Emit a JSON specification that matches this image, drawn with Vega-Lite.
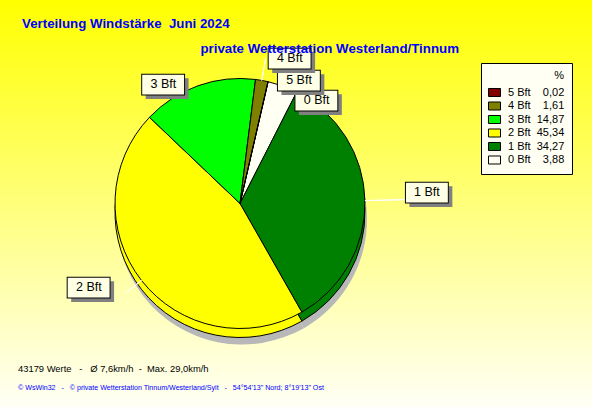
{
  "$schema": "https://vega.github.io/schema/vega-lite/v6.json",
  "background": "#FFFFF4",
  "padding": 0,
  "spacing": 0,
  "bounds": "flush",
  "config": {
    "view": {"stroke": null},
    "legend": {
      "orient": "none",
      "titleAnchor": "end", "titleFont": "Liberation Sans", "titleFontSize": 11, "titleFontWeight": "normal", "titleColor": "black", "titlePadding": 5,
      "labelFont": "Liberation Sans", "labelFontSize": 11, "labelColor": "black", "labelOffset": 7, "labelLimit": 200,
      "symbolType": "M-1,-0.667H1V0.667H-1Z", "symbolSize": 144, "symbolStrokeColor": "black", "symbolStrokeWidth": 1,
      "padding": 7, "rowPadding": 0.5
    }
  },
  "title": {
    "text": "43179 Werte\u00a0\u00a0\u00a0-\u00a0\u00a0\u00a0Ø 7,6km/h\u00a0\u00a0-\u00a0\u00a0Max. 29,0km/h",
    "subtitle": "© WsWin32\u00a0\u00a0\u00a0-\u00a0\u00a0\u00a0© private Wetterstation Tinnum/Westerland/Sylt\u00a0\u00a0\u00a0-\u00a0\u00a0\u00a054°54'13\" Nord; 8°19'13\" Ost",
    "orient": "bottom", "anchor": "start", "dx": 18, "offset": -42,
    "font": "Liberation Sans", "fontSize": 9.4, "fontWeight": "normal", "color": "black",
    "subtitleFont": "Liberation Sans", "subtitleFontSize": 7.1, "subtitleColor": "#0000FF", "subtitlePadding": 10
  },
  "hconcat": [
    {
      "width": 480,
      "height": 407,
      "title": {
        "text": "Verteilung Windstärke\u00a0\u00a0Juni 2024",
        "anchor": "start", "dx": 22, "offset": -30.5,
        "font": "Liberation Sans", "fontSize": 13.3, "fontWeight": "bold", "color": "#0000FF"
      },
      "layer": [
        {
          "data": {"values": [{}]},
          "mark": {"type": "rect", "fill": {"gradient": "linear", "x1": 0, "y1": 0, "x2": 0, "y2": 1,
            "stops": [{"offset": 0, "color": "#FFFF00"}, {"offset": 1, "color": "#FFFFF6"}]}}
        },
        {
          "data": {
            "values": [
              {"name": "0 Bft", "bft": 0, "pct": 3.88, "legend": "0 Bft\u00a0\u00a0\u00a0\u00a03,88"},
              {"name": "1 Bft", "bft": 1, "pct": 34.27, "legend": "1 Bft\u00a0\u00a034,27"},
              {"name": "2 Bft", "bft": 2, "pct": 45.34, "legend": "2 Bft\u00a0\u00a045,34"},
              {"name": "3 Bft", "bft": 3, "pct": 14.87, "legend": "3 Bft\u00a0\u00a014,87"},
              {"name": "4 Bft", "bft": 4, "pct": 1.61, "legend": "4 Bft\u00a0\u00a0\u00a0\u00a01,61"},
              {"name": "5 Bft", "bft": 5, "pct": 0.02, "legend": "5 Bft\u00a0\u00a0\u00a0\u00a00,02"}
            ]
          },
          "encoding": {
            "theta": {"field": "pct", "type": "quantitative", "stack": true, "scale": {"range": [0.2269, 6.5101]}},
            "order": {"field": "bft", "type": "quantitative", "sort": "ascending"}
          },
          "layer": [
            {
              "mark": {"type": "arc", "radius": 125, "yOffset": 16, "xOffset": 2, "fill": "#B8B8B8"},
              "encoding": {"fillOpacity": {"field": "name", "type": "nominal",
                "scale": {"domain": ["5 Bft", "4 Bft", "3 Bft", "2 Bft", "1 Bft", "0 Bft"], "range": [1, 1, 1, 1, 1, 1]},
                "legend": {"title": "%", "legendX": 485, "legendY": 67, "fillColor": "#000000", "strokeColor": "#000000",
                  "symbolOpacity": 0, "labelColor": "#000000", "titleColor": "#000000", "zindex": 0,
                  "labelExpr": "datum.label + '\u00a0\u00a0\u00a0\u00a00,00'"}}}
            },
            {
              "mark": {"type": "arc", "radius": 125, "yOffset": 9, "stroke": "black", "strokeWidth": 1},
              "encoding": {"color": {"field": "legend", "type": "nominal",
                "scale": {"domain": ["5 Bft\u00a0\u00a0\u00a0\u00a00,02", "4 Bft\u00a0\u00a0\u00a0\u00a01,61", "3 Bft\u00a0\u00a014,87", "2 Bft\u00a0\u00a045,34", "1 Bft\u00a0\u00a034,27", "0 Bft\u00a0\u00a0\u00a0\u00a03,88"],
                  "range": ["#800000", "#808000", "#00FF00", "#FFFF00", "#008000", "#FFFFF4"]},
                "legend": {"title": "%", "legendX": 481, "legendY": 63, "fillColor": "#FFFFF4", "strokeColor": "#000000", "zindex": 1}}}
            },
            {
              "mark": {"type": "arc", "radius": 125, "stroke": "black", "strokeWidth": 1},
              "encoding": {"color": {"field": "legend", "type": "nominal"}}
            },

            {"mark": {"type": "arc", "radius": 187, "radius2": 125, "padAngle": 3, "fill": "transparent", "stroke": "white", "strokeWidth": 1},
             "encoding": {"opacity": {"condition": {"test": "datum.name === '1 Bft'", "value": 1}, "value": 0}}},
            {"mark": {"type": "arc", "radius": 146, "radius2": 125, "padAngle": 3, "fill": "transparent", "stroke": "white", "strokeWidth": 1},
             "encoding": {"opacity": {"condition": {"test": "datum.name === '2 Bft'", "value": 1}, "value": 0}}},
            {"mark": {"type": "arc", "radius": 148, "radius2": 125, "padAngle": 3, "fill": "transparent", "stroke": "white", "strokeWidth": 1},
             "encoding": {"opacity": {"condition": {"test": "datum.name === '4 Bft'", "value": 1}, "value": 0}}},

            {"mark": {"type": "text", "text": "▂", "font": "DejaVu Sans Mono", "fontSize": 69, "fill": "#808080", "radius": 150, "dx": -29, "dy": -32, "align": "center", "baseline": "middle", "clip": true},
             "encoding": {"opacity": {"condition": {"test": "datum.name === '2 Bft'", "value": 1}, "value": 0}}},
            {"mark": {"type": "text", "text": "▂", "font": "DejaVu Sans Mono", "fontSize": 69, "fill": "#FFFFE6", "stroke": "black", "strokeWidth": 1, "radius": 150, "dx": -33, "dy": -36, "align": "center", "baseline": "middle", "clip": true},
             "encoding": {"opacity": {"condition": {"test": "datum.name === '2 Bft'", "value": 1}, "value": 0}}},
            {"mark": {"type": "text", "font": "Liberation Sans", "fontSize": 12.5, "fill": "black", "radius": 150, "dx": -33, "dy": -9, "align": "center", "baseline": "middle"},
             "encoding": {"text": {"field": "name", "type": "nominal"}, "opacity": {"condition": {"test": "datum.name === '2 Bft'", "value": 1}, "value": 0}}},

            {"mark": {"type": "text", "text": "▂", "font": "DejaVu Sans Mono", "fontSize": 69, "fill": "#808080", "radius": 187, "dx": 4, "dy": -30, "align": "center", "baseline": "middle", "clip": true},
             "encoding": {"opacity": {"condition": {"test": "datum.name === '1 Bft'", "value": 1}, "value": 0}}},
            {"mark": {"type": "text", "text": "▂", "font": "DejaVu Sans Mono", "fontSize": 69, "fill": "#FFFFE6", "stroke": "black", "strokeWidth": 1, "radius": 187, "dy": -34, "align": "center", "baseline": "middle", "clip": true},
             "encoding": {"opacity": {"condition": {"test": "datum.name === '1 Bft'", "value": 1}, "value": 0}}},
            {"mark": {"type": "text", "font": "Liberation Sans", "fontSize": 12.5, "fill": "black", "radius": 187, "dy": -7, "align": "center", "baseline": "middle"},
             "encoding": {"text": {"field": "name", "type": "nominal"}, "opacity": {"condition": {"test": "datum.name === '1 Bft'", "value": 1}, "value": 0}}},

            {"mark": {"type": "text", "text": "▂", "font": "DejaVu Sans Mono", "fontSize": 69, "fill": "#808080", "radius": 127, "dx": -30, "dy": -23, "align": "center", "baseline": "middle", "clip": true},
             "encoding": {"opacity": {"condition": {"test": "datum.name === '3 Bft'", "value": 1}, "value": 0}}},
            {"mark": {"type": "text", "text": "▂", "font": "DejaVu Sans Mono", "fontSize": 69, "fill": "#FFFFE6", "stroke": "black", "strokeWidth": 1, "radius": 127, "dx": -34, "dy": -27, "align": "center", "baseline": "middle", "clip": true},
             "encoding": {"opacity": {"condition": {"test": "datum.name === '3 Bft'", "value": 1}, "value": 0}}},
            {"mark": {"type": "text", "font": "Liberation Sans", "fontSize": 12.5, "fill": "black", "radius": 127, "dx": -34, "align": "center", "baseline": "middle"},
             "encoding": {"text": {"field": "name", "type": "nominal"}, "opacity": {"condition": {"test": "datum.name === '3 Bft'", "value": 1}, "value": 0}}},

            {"mark": {"type": "text", "text": "▂", "font": "DejaVu Sans Mono", "fontSize": 69, "fill": "#808080", "radius": 110, "dx": 43, "dy": -23, "align": "center", "baseline": "middle", "clip": true},
             "encoding": {"opacity": {"condition": {"test": "datum.name === '0 Bft'", "value": 1}, "value": 0}}},
            {"mark": {"type": "text", "text": "▂", "font": "DejaVu Sans Mono", "fontSize": 69, "fill": "#FFFFE6", "stroke": "black", "strokeWidth": 1, "radius": 110, "dx": 39, "dy": -27, "align": "center", "baseline": "middle", "clip": true},
             "encoding": {"opacity": {"condition": {"test": "datum.name === '0 Bft'", "value": 1}, "value": 0}}},
            {"mark": {"type": "text", "font": "Liberation Sans", "fontSize": 12.5, "fill": "black", "radius": 110, "dx": 39, "align": "center", "baseline": "middle"},
             "encoding": {"text": {"field": "name", "type": "nominal"}, "opacity": {"condition": {"test": "datum.name === '0 Bft'", "value": 1}, "value": 0}}},

            {"mark": {"type": "text", "text": "▂", "font": "DejaVu Sans Mono", "fontSize": 69, "fill": "#808080", "radius": 125, "dx": 35, "dy": -25, "align": "center", "baseline": "middle", "clip": true},
             "encoding": {"opacity": {"condition": {"test": "datum.name === '5 Bft'", "value": 1}, "value": 0}}},
            {"mark": {"type": "text", "text": "▂", "font": "DejaVu Sans Mono", "fontSize": 69, "fill": "#FFFFE6", "stroke": "black", "strokeWidth": 1, "radius": 125, "dx": 31, "dy": -29, "align": "center", "baseline": "middle", "clip": true},
             "encoding": {"opacity": {"condition": {"test": "datum.name === '5 Bft'", "value": 1}, "value": 0}}},
            {"mark": {"type": "text", "font": "Liberation Sans", "fontSize": 12.5, "fill": "black", "radius": 125, "dx": 31, "dy": -2, "align": "center", "baseline": "middle"},
             "encoding": {"text": {"field": "name", "type": "nominal"}, "opacity": {"condition": {"test": "datum.name === '5 Bft'", "value": 1}, "value": 0}}},

            {"mark": {"type": "text", "text": "▂", "font": "DejaVu Sans Mono", "fontSize": 69, "fill": "#808080", "radius": 148, "dx": 28, "dy": -23, "align": "center", "baseline": "middle", "clip": true},
             "encoding": {"opacity": {"condition": {"test": "datum.name === '4 Bft'", "value": 1}, "value": 0}}},
            {"mark": {"type": "text", "text": "▂", "font": "DejaVu Sans Mono", "fontSize": 69, "fill": "#FFFFE6", "stroke": "black", "strokeWidth": 1, "radius": 148, "dx": 24, "dy": -27, "align": "center", "baseline": "middle", "clip": true},
             "encoding": {"opacity": {"condition": {"test": "datum.name === '4 Bft'", "value": 1}, "value": 0}}},
            {"mark": {"type": "text", "font": "Liberation Sans", "fontSize": 12.5, "fill": "black", "radius": 148, "dx": 24, "align": "center", "baseline": "middle"},
             "encoding": {"text": {"field": "name", "type": "nominal"}, "opacity": {"condition": {"test": "datum.name === '4 Bft'", "value": 1}, "value": 0}}}
          ]
        }
      ]
    },
    {
      "width": 112,
      "height": 407,
      "title": {
        "text": "private Wetterstation Westerland/Tinnum",
        "anchor": "end", "frame": "group", "dx": -133, "offset": -55,
        "font": "Liberation Sans", "fontSize": 13.3, "fontWeight": "bold", "color": "#0000FF"
      },
      "data": {"values": [{}]},
      "mark": {"type": "rect", "fill": {"gradient": "linear", "x1": 0, "y1": 0, "x2": 0, "y2": 1,
        "stops": [{"offset": 0, "color": "#FFFF00"}, {"offset": 1, "color": "#FFFFF6"}]}}
    }
  ]
}
